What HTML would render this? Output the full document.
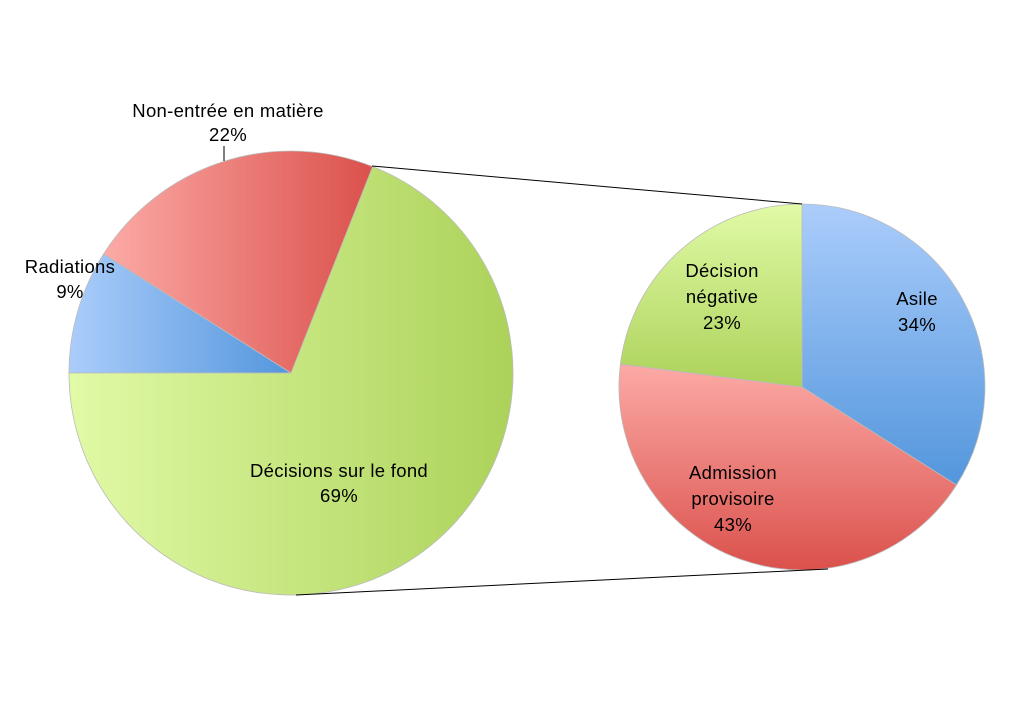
<!DOCTYPE html>
<html><head><meta charset="utf-8"><style>
body{margin:0;background:#fff;width:1024px;height:705px;overflow:hidden}
text{font-family:"Liberation Sans",sans-serif;font-size:18.5px;letter-spacing:0.3px;fill:#000}
</style></head><body>
<svg width="1024" height="705" xmlns="http://www.w3.org/2000/svg">
<defs>
<linearGradient id="bb" x1="0" y1="0" x2="1" y2="0"><stop offset="0" stop-color="#abcdfb"/><stop offset="1" stop-color="#5396dc"/></linearGradient>
<linearGradient id="rb" x1="0" y1="0" x2="1" y2="0"><stop offset="0" stop-color="#fcaaa6"/><stop offset="1" stop-color="#db514c"/></linearGradient>
<linearGradient id="gb" x1="0" y1="0" x2="1" y2="0"><stop offset="0" stop-color="#e1faa6"/><stop offset="1" stop-color="#acd25a"/></linearGradient>
<linearGradient id="bv" x1="0" y1="0" x2="0" y2="1"><stop offset="0" stop-color="#abcdfb"/><stop offset="1" stop-color="#5396dc"/></linearGradient>
<linearGradient id="rv" x1="0" y1="0" x2="0" y2="1"><stop offset="0" stop-color="#fcaaa6"/><stop offset="1" stop-color="#db514c"/></linearGradient>
<linearGradient id="gv" x1="0" y1="0" x2="0" y2="1"><stop offset="0" stop-color="#e1faa6"/><stop offset="1" stop-color="#acd25a"/></linearGradient>
</defs>
<g stroke="#bbb" stroke-width="0.8">
<path d="M291,373 L69,373 A222,222 0 0 1 103.6,254 Z" fill="url(#bb)"/>
<path d="M291,373 L103.6,254 A222,222 0 0 1 372.7,166.6 Z" fill="url(#rb)"/>
<path d="M291,373 L372.7,166.6 A222,222 0 1 1 69,373 Z" fill="url(#gb)"/>
<path d="M802,387 L802,204 A183,183 0 0 1 956.5,485 Z" fill="url(#bv)"/>
<path d="M802,387 L956.5,485 A183,183 0 0 1 620.4,364.1 Z" fill="url(#rv)"/>
<path d="M802,387 L620.4,364.1 A183,183 0 0 1 802,204 Z" fill="url(#gv)"/>
</g>
<g stroke="#000" stroke-width="1">
<line x1="372" y1="166" x2="802" y2="204"/>
<line x1="296" y1="595" x2="828" y2="569"/>
<line x1="224" y1="146" x2="224" y2="161"/>
</g>
<text x="228" y="117" text-anchor="middle">Non-entrée en matière</text>
<text x="228" y="141" text-anchor="middle">22%</text>
<text x="70" y="273" text-anchor="middle">Radiations</text>
<text x="70" y="298" text-anchor="middle">9%</text>
<text x="339" y="477" text-anchor="middle">Décisions sur le fond</text>
<text x="339" y="502" text-anchor="middle">69%</text>
<text x="722" y="277" text-anchor="middle">Décision</text>
<text x="722" y="303" text-anchor="middle">négative</text>
<text x="722" y="329" text-anchor="middle">23%</text>
<text x="917" y="305" text-anchor="middle">Asile</text>
<text x="917" y="331" text-anchor="middle">34%</text>
<text x="733" y="479" text-anchor="middle">Admission</text>
<text x="733" y="505" text-anchor="middle">provisoire</text>
<text x="733" y="531" text-anchor="middle">43%</text>
</svg>
</body></html>
